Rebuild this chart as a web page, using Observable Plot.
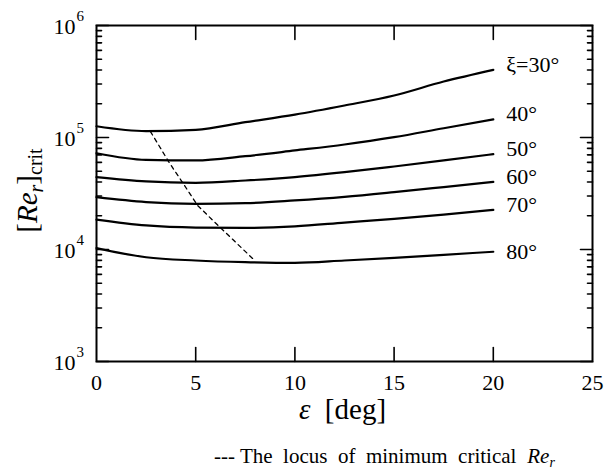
<!DOCTYPE html>
<html><head><meta charset="utf-8">
<script src="https://cdn.jsdelivr.net/npm/d3@7"></script>
<script src="https://cdn.jsdelivr.net/npm/@observablehq/plot@0.6"></script>
<style>body{margin:0;background:#fff;overflow:hidden}</style>
</head><body><div id="chart"></div>
<script>
// ε [deg] sample positions
const eps = [0, 2.5, 5, 7.5, 10, 12.5, 15, 17.5, 20];
// critical Re_r for each ξ
const xi30 = [1.26e5, 1.14e5, 1.17e5, 1.37e5, 1.60e5, 1.93e5, 2.37e5, 3.16e5, 4.02e5];
const xi40 = [7.24e4, 6.31e4, 6.24e4, 6.81e4, 7.66e4, 8.66e4, 1.007e5, 1.21e5, 1.45e5];
const xi50 = [4.43e4, 4.05e4, 3.94e4, 4.13e4, 4.43e4, 4.90e4, 5.51e4, 6.24e4, 7.10e4];
const xi60 = [2.93e4, 2.65e4, 2.56e4, 2.59e4, 2.74e4, 2.95e4, 3.25e4, 3.61e4, 4.02e4];
const xi70 = [1.85e4, 1.64e4, 1.57e4, 1.56e4, 1.61e4, 1.74e4, 1.88e4, 2.05e4, 2.26e4];
const xi80 = [1.03e4, 8.53e3, 7.98e3, 7.71e3, 7.60e3, 7.98e3, 8.43e3, 8.97e3, 9.55e3];
const seriesLabels = ["ξ=30°", "40°", "50°", "60°", "70°", "80°"];
const seriesValues = [xi30, xi40, xi50, xi60, xi70, xi80];
// locus of minimum critical Re_r
const locusEps = [2.72, 3.65, 4.27, 5.1, 6.08, 8.0];
const locusRe = [1.13e5, 6.03e4, 4.13e4, 2.47e4, 1.67e4, 7.9e3];
// ticks
const xTicks = [0, 5, 10, 15, 20, 25];
const xInnerTicks = [5, 10, 15, 20];
const yTicks = [1e3, 1e4, 1e5, 1e6];
const yMinor = [2,3,4,5,6,7,8,9].flatMap(m => [1e3, 1e4, 1e5].map(p => m * p));
// titles (rich-text pieces)
const yTitle = [["[", "normal", 29, 0], ["Re", "italic", 29, 0], ["r", "italic", 20, 6], ["]", "normal", 29, 0], ["crit", "normal", 20, 5]];
const xTitle = [["ε", "italic", 29, 0], ["\u2002[deg]", "normal", 29, 0]];
const caption = [["--- The\u2002locus\u2002of\u2002minimum\u2002critical\u2002", "normal", 21, 0], ["Re", "italic", 21, 0], ["r", "italic", 14, 4]];

const curves = seriesValues.flatMap((vals, i) => vals.map((v, j) => ({s: seriesLabels[i], x: eps[j], y: v})));
const ends = seriesValues.map((vals, i) => ({s: seriesLabels[i], x: eps[eps.length - 1], y: vals[vals.length - 1], last: i === seriesValues.length - 1}));
const locus = locusEps.map((x, i) => ({x, y: locusRe[i]}));

const W = 605, H = 473, mL = 96, mR = 13, mT = 25, mB = 112;
const pw = W - mL - mR;
const fontName = "Liberation Serif";
const font = "'Liberation Serif', 'Times New Roman', serif";
const K = "#000";

// measure text pieces to lay out rich titles
const ctx = document.createElement("canvas").getContext("2d");
const measure = (t, style, size) => { ctx.font = `${style} ${size}px "${fontName}"`; return ctx.measureText(t).width; };
function richText(pieces, {cx, cy, rotate = 0}) {
  const widths = pieces.map(([t, s, z]) => measure(t, s, z));
  const total = d3.sum(widths);
  let off = -total / 2;
  return pieces.map(([t, s, z, shift], i) => {
    const o = off; off += widths[i];
    const px = rotate ? cx + shift : cx + o;
    const py = rotate ? cy - o : cy + shift;
    return Plot.text([t], {text: d => d, frameAnchor: "top-left", dx: px - mL, dy: py - mT, rotate,
      textAnchor: "start", lineAnchor: "bottom", fontSize: z, fontStyle: s, fontFamily: font, fill: K});
  });
}

// inward tick marks drawn as straight vectors (pixel lengths)
const stick = {draw(context, l) { context.moveTo(0, 0); context.lineTo(0, -l); }};
const tickV = (data, opts) => Plot.vector(data, {anchor: "start", shape: stick, stroke: K, strokeWidth: 1.6, ...opts});
const vectorTicks = [
  tickV(yTicks, {x: 0, y: d => d, length: 12, rotate: 90}),
  tickV(yTicks, {x: 25, y: d => d, length: 12, rotate: -90}),
  tickV(yMinor, {x: 0, y: d => d, length: 5, rotate: 90}),
  tickV(yMinor, {x: 25, y: d => d, length: 5, rotate: -90}),
  tickV(xInnerTicks, {x: d => d, y: 1e3, length: 14, rotate: 0}),
  tickV(xInnerTicks, {x: d => d, y: 1e6, length: 14, rotate: 180})
];
const lineTicks = [
  Plot.tickY(yTicks, {y: d => d, insetRight: pw - 12, stroke: K, strokeWidth: 1.6}),
  Plot.ruleY(yTicks, {y: d => d, insetLeft: pw - 12, stroke: K, strokeWidth: 1.6}),
  Plot.tickY(yMinor, {y: d => d, insetRight: pw - 5, stroke: K, strokeWidth: 1.6}),
  Plot.ruleY(yMinor, {y: d => d, insetLeft: pw - 5, stroke: K, strokeWidth: 1.6})
];

function build(tickMarks) {
  return Plot.plot({
    width: W, height: H,
    marginLeft: mL, marginRight: mR, marginTop: mT, marginBottom: mB,
    style: {fontFamily: font, background: "#fff", color: K},
    x: {domain: [0, 25], axis: null},
    y: {type: "log", domain: [1e3, 1e6], axis: null},
    marks: [
      ...tickMarks,
      Plot.line(curves, {x: "x", y: "y", z: "s", curve: "monotone-x", stroke: K, strokeWidth: 2.2}),
      Plot.line(locus, {x: "x", y: "y", stroke: K, strokeWidth: 1.3, strokeDasharray: "4,4"}),
      Plot.text(ends.filter(d => !d.last), {x: "x", y: "y", text: "s", textAnchor: "start", dx: 13, dy: -5, fontSize: 22, fontFamily: font, fill: K}),
      Plot.text(ends.filter(d => d.last), {x: "x", y: "y", text: "s", textAnchor: "start", dx: 13, dy: 0, fontSize: 22, fontFamily: font, fill: K}),
      Plot.text(yTicks, {x: 0, y: d => d, text: () => "10", textAnchor: "end", dx: -21, dy: 1, fontSize: 22, fontFamily: font, fill: K}),
      Plot.text(yTicks, {x: 0, y: d => d, text: d => String(Math.round(Math.log10(d))), textAnchor: "start", dx: -20, dy: -9, fontSize: 15, fontFamily: font, fill: K}),
      Plot.text(xTicks, {x: d => d, y: 1e3, text: d => String(d), dy: 21, fontSize: 22, fontFamily: font, fill: K}),
      ...richText(yTitle, {cx: 36, cy: 190, rotate: -90}),
      ...richText(xTitle, {cx: 342, cy: 418}),
      ...richText(caption, {cx: 384, cy: 462}),
      Plot.frame({stroke: K, strokeWidth: 2})
    ]
  });
}

let chart;
try { chart = build(vectorTicks); } catch (e) { chart = build(lineTicks); }
document.getElementById("chart").appendChild(chart);
</script>
</body></html>
